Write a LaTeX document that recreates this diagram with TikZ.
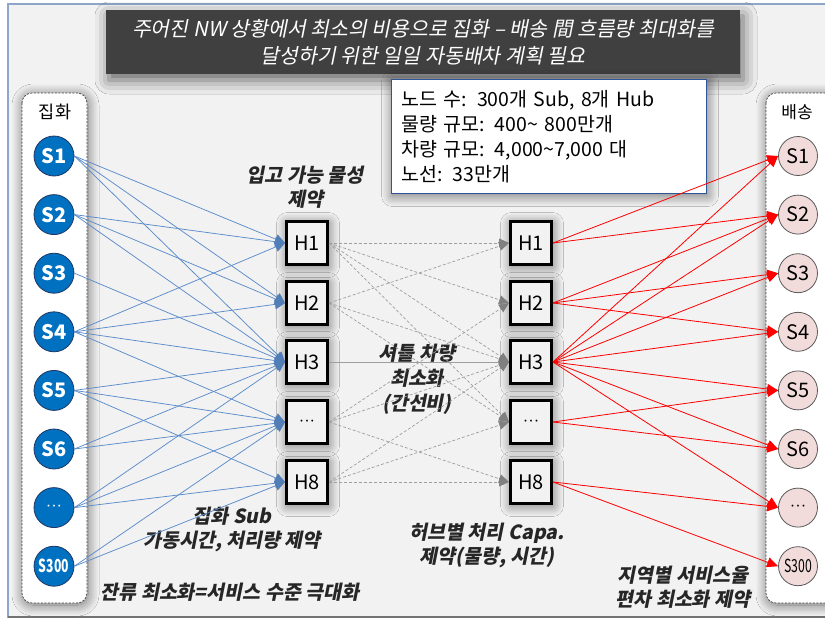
\documentclass[tikz,border=0pt]{standalone}
\usepackage{fontspec}
\usepackage{graphicx}
\setmainfont{Noto Sans CJK KR}
\newfontfamily\itf[FakeSlant=0.2]{Noto Sans CJK KR}
\usetikzlibrary{arrows.meta,shadows.blur}
\definecolor{sblue}{HTML}{0070C0}
\definecolor{sbord}{HTML}{1F3864}
\definecolor{lblue}{HTML}{5B8CCB}
\definecolor{spink}{HTML}{F2DCDB}
\definecolor{titlebg}{HTML}{404040}
\definecolor{infob}{HTML}{2F5597}
\definecolor{frameb}{HTML}{8FA6C8}
\definecolor{hubfill}{HTML}{F2F2F2}
\newcommand{\mydots}{\bfseries\fontsize{9}{9}\selectfont ···}
\tikzset{
  glow/.style={blur shadow={shadow xshift=1pt,shadow yshift=-2pt,shadow blur radius=11pt,shadow blur steps=12,shadow opacity=55}},
  lsub/.style={circle,draw=sbord,line width=0.8,fill=sblue,minimum size=40,inner sep=0,text=white,font=\bfseries\fontsize{20}{20}\selectfont},
  rsub/.style={circle,draw=black!65,line width=0.8,fill=spink,minimum size=39,inner sep=0,text=black,font=\fontsize{20}{20}\selectfont},
  hubbox/.style={rectangle,draw=black,line width=3,fill=hubfill,minimum width=41,minimum height=43,inner sep=0,font=\fontsize{20}{20}\selectfont,glow},
  container/.style={draw=black!75,dashed,dash pattern=on 2pt off 1.5pt,line width=0.7,fill=white,rounded corners=10pt},
  note/.style={align=center,font=\itf\bfseries\fontsize{19.5}{24}\selectfont,text=black!85},
  bedge/.style={draw=lblue,line width=0.75,-{Triangle[length=10,width=10,color=lblue!90!black]}},
  gedge/.style={draw=black!38,dashed,dash pattern=on 3pt off 2pt,line width=0.7,-{Triangle[length=10,width=9,color=black!50]}},
  gsolid/.style={draw=black!38,line width=0.9,-{Triangle[length=10,width=9,color=black!50]}},
  redge/.style={draw=red,line width=0.8,-{Triangle[length=11,width=10,color=red]}},
}
\begin{document}
\begin{tikzpicture}[x=1pt,y=-1pt]
\useasboundingbox (0,0) rectangle (825,621);
\fill[white] (0,0) rectangle (825,621);
\fill[black!5] (8,4) rectangle (830,617);
\draw[frameb,line width=1.2] (8,4) rectangle (835,617);
\draw[black!55,line width=1.6] (8,617) -- (835,617);

% containers
\path[container,glow] (22,93) rectangle (87,603);
\path[container,glow] (766,93) rectangle (845,603);
\node[font=\fontsize{17.5}{17.5}\selectfont] (lcap) at (55,112) {집화};
\node[font=\fontsize{17}{17}\selectfont] (rcap) at (797,112) {배송};

% title
\node[fill=titlebg,minimum width=634,minimum height=64,inner sep=0,align=center,text=white,
      font=\itf\fontsize{20.5}{27}\selectfont,blur shadow={shadow xshift=3pt,shadow yshift=-6pt,shadow blur radius=14pt,shadow opacity=60}]
  (title) at (423,42) {주어진 NW 상황에서 최소의 비용으로 집화 – 배송 間 흐름량 최대화를\\달성하기 위한 일일 자동배차 계획 필요};

% info box
\node[draw=infob,line width=1.1,fill=white,anchor=north west,minimum width=315,minimum height=114,
      text width=295,inner xsep=10,inner ysep=4,align=left,font=\fontsize{19.5}{25}\selectfont,glow]
  (info) at (391,79) {노드 수: 300개 Sub, 8개 Hub\\물량 규모: 400\textasciitilde{} 800만개\\차량 규모: 4,000\textasciitilde{}7,000 대\\노선: 33만개};

% left subs
\node[lsub] (l1) at (54,156) {S1};
\node[lsub] (l2) at (54,214.6) {S2};
\node[lsub] (l3) at (54,273.2) {S3};
\node[lsub] (l4) at (54,331.8) {S4};
\node[lsub] (l5) at (54,390.4) {S5};
\node[lsub] (l6) at (54,449) {S6};
\node[lsub] (l7) at (54,507.6) {\mydots};
\node[lsub] (l8) at (54,566.2) {\scalebox{0.68}[1]{\fontsize{18}{18}\selectfont S300}};

% right subs
\node[rsub] (r1) at (798,156) {S1};
\node[rsub] (r2) at (798,214.6) {S2};
\node[rsub] (r3) at (798,273.2) {S3};
\node[rsub] (r4) at (798,331.8) {S4};
\node[rsub] (r5) at (798,390.4) {S5};
\node[rsub] (r6) at (798,449) {S6};
\node[rsub] (r7) at (798,507.6) {\mydots};
\node[rsub] (r8) at (798,566.2) {\scalebox{0.68}[1]{\fontsize{18}{18}\selectfont S300}};

% hubs
\node[hubbox] (a1) at (307,243) {H1};
\node[hubbox] (a2) at (307,303) {H2};
\node[hubbox] (a3) at (307,362) {H3};
\node[hubbox] (a4) at (307,422) {\mydots};
\node[hubbox] (a8) at (307,482) {H8};
\node[hubbox] (b1) at (531,243) {H1};
\node[hubbox] (b2) at (531,303) {H2};
\node[hubbox] (b3) at (531,362) {H3};
\node[hubbox] (b4) at (531,422) {\mydots};
\node[hubbox] (b8) at (531,482) {H8};

% notes
\node[note] (n1) at (305,187) {입고 가능 물성\\제약};
\node[note,font=\itf\bfseries\fontsize{19.5}{25}\selectfont] (n2) at (417,379) {셔틀 차량\\최소화\\(간선비)};
\node[note] (n3) at (232,529) {집화 Sub\\가동시간, 처리량 제약};
\node[note] (n4) at (230,592) {잔류 최소화=서비스 수준 극대화};
\node[note] (n5) at (487,545) {허브별 처리 Capa.\\제약(물량, 시간)};
\node[note] (n6) at (683,587) {지역별 서비스율\\편차 최소화 제약};

% blue edges
\foreach \s/\h in {l1/a1,l1/a2,l1/a3,l2/a1,l2/a2,l2/a3,l3/a3,l4/a1,l4/a2,l4/a3,l4/a4,
                   l5/a3,l5/a4,l5/a8,l6/a3,l6/a4,l7/a3,l7/a4,l7/a8,l8/a4,l8/a8}
  \draw[bedge] (\s.east) -- (\h.west);

% gray edges
\foreach \s/\h in {a1/b1,a1/b2,a1/b3,a1/b4,a2/b1,a2/b3,a2/b4,a4/b2,a4/b3,a4/b8,a8/b8,a8/b4,a8/b3}
  \draw[gedge] (\s.east) -- (\h.west);
\draw[gsolid] (a3.east) -- (b3.west);

% red edges
\foreach \h/\s in {b1/r1,b1/r2,b2/r2,b2/r3,b2/r4,b3/r1,b3/r2,b3/r3,b3/r4,b3/r5,b3/r6,b3/r7,
                   b4/r5,b4/r6,b8/r7,b8/r8}
  \draw[redge] (\h.east) -- (\s.west);
\end{tikzpicture}
\end{document}
